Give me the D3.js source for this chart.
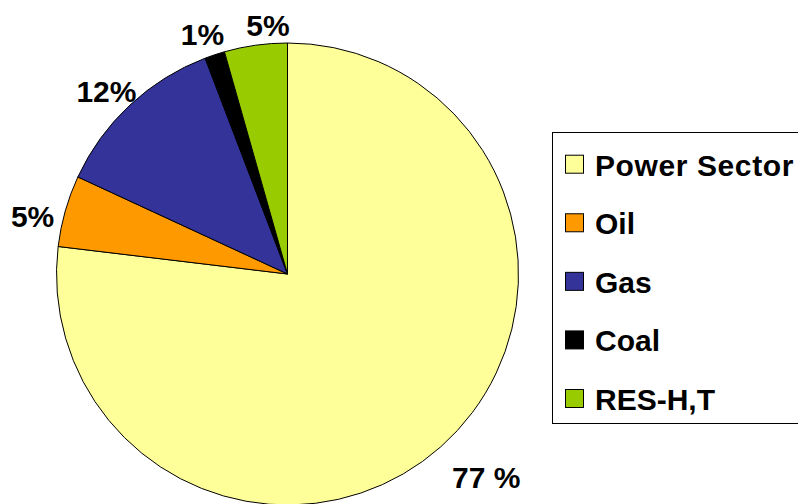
<!DOCTYPE html>
<html>
<head>
<meta charset="utf-8">
<script src="https://cdn.jsdelivr.net/npm/d3@7"></script>
<style>
  html, body { margin: 0; padding: 0; background: #fff; }
  svg { display: block; }
  text { font-family: "Liberation Sans", Arial, sans-serif; font-weight: bold; fill: #000; }
</style>
</head>
<body>
<svg id="chart" width="798" height="504"></svg>
<script>
// ---- data ----
const categories = ["Power Sector", "Oil", "Gas", "Coal", "RES-H,T"];
const shares = [76.9, 5.0, 12.3, 1.4, 4.4];
const labels = ["77 %", "5%", "12%", "1%", "5%"];
const colors = ["#FFFF99", "#FF9900", "#333399", "#000000", "#99CC00"];

// ---- layout ----
const W = 798, H = 504;
const cx = 287.5, cy = 274, R = 231;
const fontSize = 30;
const labelGap = 6;
// manual fine adjustments of label placement (layout only)
const labelNudge = {
  "Power Sector": [21, 3],
  "Oil": [-4, 13],
  "Gas": [0, 11],
  "Coal": [-5, 1],
  "RES-H,T": [15, -1]
};

const svg = d3.select("#chart");
const data = categories.map((c, i) => ({ cat: c, value: shares[i], label: labels[i], color: colors[i] }));

const pie = d3.pie().sort(null).value(d => d.value).startAngle(0).endAngle(2 * Math.PI);
const arcs = pie(data);
const arc = d3.arc().innerRadius(0).outerRadius(R);

const g = svg.append("g").attr("transform", `translate(${cx},${cy})`);
g.selectAll("path.slice")
  .data(arcs)
  .join("path")
  .attr("class", "slice")
  .attr("d", arc)
  .attr("fill", d => d.data.color)
  .attr("stroke", "#000")
  .attr("stroke-width", 1)
  .attr("stroke-linejoin", "round");

// labels: measure, then place box outside the arc along mid-angle
const lbl = g.selectAll("text.lbl")
  .data(arcs)
  .join("text")
  .attr("class", "lbl")
  .attr("font-size", fontSize)
  .attr("text-anchor", "middle")
  .text(d => d.data.label);

lbl.each(function(d) {
  const bb = this.getBBox();
  const w = bb.width, h = fontSize * 0.72;
  const a = (d.startAngle + d.endAngle) / 2;
  const ux = Math.sin(a), uy = -Math.cos(a);
  const ext = Math.abs(ux) * w / 2 + Math.abs(uy) * h / 2;
  const dist = R + labelGap + ext;
  const nudge = labelNudge[d.data.cat] || [0, 0];
  const x = ux * dist + nudge[0];
  const y = uy * dist + nudge[1] + h / 2;
  d3.select(this).attr("x", x).attr("y", y);
});

// ---- legend ----
const legX = 552, legY = 132, legW = 260, legH = 291;
const legend = svg.append("g");
legend.append("rect")
  .attr("x", legX + 0.5).attr("y", legY + 0.5)
  .attr("width", legW).attr("height", legH)
  .attr("fill", "#fff").attr("stroke", "#000").attr("stroke-width", 1);

const rowY = d3.scalePoint().domain(categories).range([175.7, 410]);
const items = legend.selectAll("g.item").data(data).join("g").attr("class", "item");
items.append("rect")
  .attr("x", 565.5)
  .attr("y", d => rowY(d.cat) - 20.5)
  .attr("width", 18).attr("height", 18)
  .attr("fill", d => d.color)
  .attr("stroke", "#000").attr("stroke-width", 1);
items.append("text")
  .attr("x", 595)
  .attr("y", d => rowY(d.cat))
  .attr("font-size", fontSize)
  .attr("letter-spacing", d => d.cat.length > 8 ? 0.6 : 0)
  .text(d => d.cat);
</script>
</body>
</html>
